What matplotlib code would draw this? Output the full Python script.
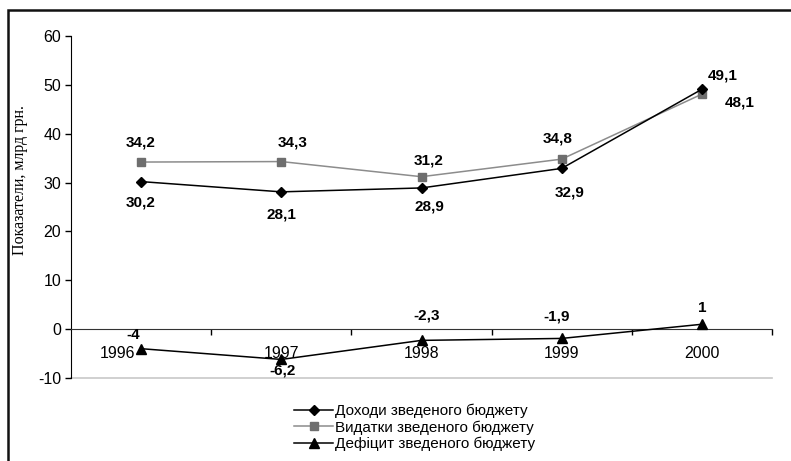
import matplotlib
matplotlib.use("Agg")
import matplotlib.pyplot as plt
from matplotlib.patches import Rectangle
from matplotlib.transforms import ScaledTranslation

plt.rcParams['font.family'] = ['Liberation Sans', 'DejaVu Sans']
plt.rcParams['axes.unicode_minus'] = False

years = ["1996", "1997", "1998", "1999", "2000"]
income = [30.2, 28.1, 28.9, 32.9, 49.1]
spending = [34.2, 34.3, 31.2, 34.8, 48.1]
deficit = [-4, -6.2, -2.3, -1.9, 1]

income_name = "Доходи зведеного бюджету"
spending_name = "Видатки зведеного бюджету"
deficit_name = "Дефіцит зведеного бюджету"

# label offsets in points (dx, dy)
income_off = [(0, -15), (0, -16), (6, -13), (6, -17), (15, 10)]
spending_off = [(0, 14), (8, 14), (5, 12), (-3, 15), (27, -6)]
deficit_off = [(-6, 10), (1, -8), (4, 18), (-4, 16), (0, 12)]

fig = plt.figure(figsize=(7.91, 4.61), dpi=100)
ax = fig.add_axes([71 / 791, 1 - 378 / 461, 701 / 791, 342 / 461])

x = list(range(len(years)))
ax.plot(x, spending, color="#8c8c8c", lw=1.1, marker="s", ms=6,
        mfc="#6e6e6e", mec="#6e6e6e", label=spending_name, zorder=3)
ax.plot(x, income, color="black", lw=1.1, marker="D", ms=5,
        label=income_name, zorder=4)
ax.plot(x, deficit, color="black", lw=1.1, marker="^", ms=7,
        label=deficit_name, zorder=4)

for xs, vals, offs in [(x, income, income_off), (x, spending, spending_off),
                       (x, deficit, deficit_off)]:
    for xi, v, o in zip(xs, vals, offs):
        txt = f"{v:g}".replace(".", ",")
        ax.annotate(txt, (xi, v), xytext=o, textcoords="offset points",
                    ha="center", va="center", fontsize=11, fontweight="bold")

ax.set_xlim(-0.5, len(years) - 0.5)
ax.set_ylim(-10, 60)
ax.set_yticks(range(-10, 61, 10))
ax.tick_params(axis="y", labelsize=11.5, length=4, width=1, pad=3)

ax.spines['bottom'].set_position(('data', 0))
ax.spines['bottom'].set_color("#333333")
ax.spines['top'].set_visible(False)
ax.spines['right'].set_visible(False)
ax.axhline(-10, color="#c8c8c8", lw=1.2, zorder=1, clip_on=False)

ax.set_xticks(x)
ax.set_xticklabels(years)
ax.set_xticks([i + 0.5 for i in x], minor=True)
ax.tick_params(axis="x", which="major", length=0, pad=12, labelsize=11.5)
ax.tick_params(axis="x", which="minor", length=4, width=1, direction="out")

# first year label sits left of the marker in the original
lbl = ax.get_xticklabels()[0]
lbl.set_transform(lbl.get_transform() + ScaledTranslation(-0.24, 0, fig.dpi_scale_trans))

fig.text(20 / 791, 1 - 180 / 461, "Показатели, млрд грн.", rotation=90,
         ha="center", va="center", fontsize=11.5, family="Liberation Serif")

h, l = ax.get_legend_handles_labels()
order = [1, 0, 2]
fig.legend([h[i] for i in order], [l[i] for i in order], loc="upper left",
           bbox_to_anchor=(286 / 791, 1 - 396 / 461), frameon=False,
           fontsize=11, handlelength=2.6, handletextpad=0.1, labelspacing=0.15,
           borderpad=0)

fig.patches.append(Rectangle((8 / 791, -0.1), 1.1, 1.1 - 10 / 461 + 0.001,
                             transform=fig.transFigure, fill=False,
                             edgecolor="#111111", lw=1.8))

fig.savefig("out.png", dpi=100)
